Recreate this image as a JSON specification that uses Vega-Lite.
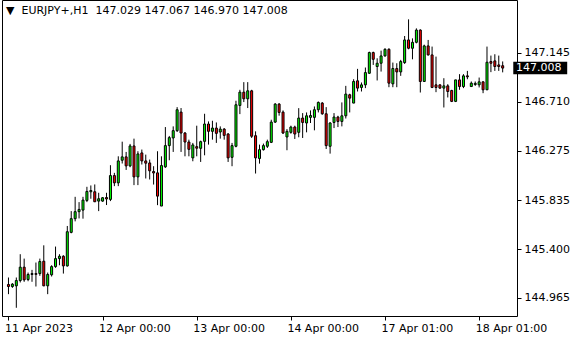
{
"$schema": "https://vega.github.io/schema/vega-lite/v6.json",
"width": 515, "height": 316,
"autosize": {"type": "none"},
"padding": {"left": 2, "top": 0, "right": 63, "bottom": 24},
"background": "white",
"config": {
  "view": {"stroke": "black", "strokeWidth": 1},
  "axis": {"labelFont": "DejaVu Sans", "labelFontSize": 11, "labelColor": "black", "tickColor": "black", "domain": false, "grid": false, "title": null, "labelFlush": false, "labelOverlap": false}
},
"title": {"text": "▼\u00a0\u00a0EURJPY+,H1\u00a0\u00a0147.029 147.067 146.970 147.008", "anchor": "start", "frame": "group", "font": "DejaVu Sans", "fontSize": 11, "fontWeight": "normal", "color": "black", "dx": 4, "dy": 16, "offset": 0},
"data": {"values": [
{"i":0,"o":145.085,"h":145.147,"l":144.999,"c":145.067},
{"i":1,"o":145.067,"h":145.097,"l":145.055,"c":145.088},
{"i":2,"o":145.073,"h":145.147,"l":144.878,"c":145.120},
{"i":3,"o":145.120,"h":145.354,"l":145.103,"c":145.239},
{"i":4,"o":145.239,"h":145.315,"l":145.109,"c":145.126},
{"i":5,"o":145.129,"h":145.191,"l":145.114,"c":145.174},
{"i":6,"o":145.174,"h":145.215,"l":145.109,"c":145.182},
{"i":7,"o":145.182,"h":145.280,"l":145.067,"c":145.175},
{"i":8,"o":145.182,"h":145.315,"l":145.162,"c":145.289},
{"i":9,"o":145.292,"h":145.433,"l":145.070,"c":145.073},
{"i":10,"o":145.073,"h":145.191,"l":144.999,"c":145.174},
{"i":11,"o":145.171,"h":145.256,"l":145.156,"c":145.244},
{"i":12,"o":145.244,"h":145.422,"l":145.233,"c":145.315},
{"i":13,"o":145.315,"h":145.354,"l":145.256,"c":145.336},
{"i":14,"o":145.336,"h":145.345,"l":145.182,"c":145.250},
{"i":15,"o":145.250,"h":145.605,"l":145.244,"c":145.554},
{"i":16,"o":145.548,"h":145.737,"l":145.540,"c":145.670},
{"i":17,"o":145.670,"h":145.864,"l":145.646,"c":145.732},
{"i":18,"o":145.732,"h":145.817,"l":145.672,"c":145.752},
{"i":19,"o":145.746,"h":145.864,"l":145.670,"c":145.835},
{"i":20,"o":145.832,"h":145.953,"l":145.817,"c":145.912},
{"i":21,"o":145.909,"h":145.965,"l":145.847,"c":145.920},
{"i":22,"o":145.909,"h":145.974,"l":145.820,"c":145.820},
{"i":23,"o":145.826,"h":145.900,"l":145.737,"c":145.847},
{"i":24,"o":145.826,"h":145.862,"l":145.820,"c":145.856},
{"i":25,"o":145.858,"h":145.900,"l":145.791,"c":145.845},
{"i":26,"o":145.841,"h":146.145,"l":145.826,"c":146.053},
{"i":27,"o":146.053,"h":146.077,"l":145.959,"c":145.988},
{"i":28,"o":145.988,"h":146.224,"l":145.959,"c":146.183},
{"i":29,"o":146.189,"h":146.354,"l":146.160,"c":146.219},
{"i":30,"o":146.219,"h":146.263,"l":146.103,"c":146.139},
{"i":31,"o":146.139,"h":146.334,"l":146.127,"c":146.316},
{"i":32,"o":146.316,"h":146.381,"l":145.968,"c":146.041},
{"i":33,"o":146.041,"h":146.269,"l":145.968,"c":146.245},
{"i":34,"o":146.254,"h":146.284,"l":146.151,"c":146.183},
{"i":35,"o":146.183,"h":146.239,"l":146.027,"c":146.163},
{"i":36,"o":146.165,"h":146.195,"l":146.018,"c":146.095},
{"i":37,"o":146.089,"h":146.136,"l":145.973,"c":146.076},
{"i":38,"o":146.077,"h":146.269,"l":145.790,"c":145.870},
{"i":39,"o":145.782,"h":146.224,"l":145.782,"c":146.142},
{"i":40,"o":146.130,"h":146.484,"l":146.121,"c":146.319},
{"i":41,"o":146.319,"h":146.405,"l":146.189,"c":146.390},
{"i":42,"o":146.387,"h":146.490,"l":146.263,"c":146.452},
{"i":43,"o":146.452,"h":146.661,"l":146.440,"c":146.638},
{"i":44,"o":146.617,"h":146.653,"l":146.263,"c":146.431},
{"i":45,"o":146.431,"h":146.440,"l":146.224,"c":146.351},
{"i":46,"o":146.351,"h":146.372,"l":146.224,"c":146.286},
{"i":47,"o":146.210,"h":146.343,"l":146.180,"c":146.325},
{"i":48,"o":146.310,"h":146.496,"l":146.224,"c":146.296},
{"i":49,"o":146.295,"h":146.363,"l":146.174,"c":146.354},
{"i":50,"o":146.357,"h":146.602,"l":146.233,"c":146.511},
{"i":51,"o":146.511,"h":146.534,"l":146.328,"c":146.446},
{"i":52,"o":146.446,"h":146.540,"l":146.372,"c":146.475},
{"i":53,"o":146.475,"h":146.525,"l":146.343,"c":146.428},
{"i":54,"o":146.440,"h":146.490,"l":146.381,"c":146.466},
{"i":55,"o":146.466,"h":146.475,"l":146.372,"c":146.410},
{"i":56,"o":146.422,"h":146.431,"l":146.174,"c":146.210},
{"i":57,"o":146.215,"h":146.343,"l":146.136,"c":146.319},
{"i":58,"o":146.313,"h":146.718,"l":146.304,"c":146.682},
{"i":59,"o":146.676,"h":146.815,"l":146.599,"c":146.794},
{"i":60,"o":146.794,"h":146.883,"l":146.706,"c":146.735},
{"i":61,"o":146.735,"h":146.883,"l":146.653,"c":146.806},
{"i":62,"o":146.806,"h":146.815,"l":146.387,"c":146.402},
{"i":63,"o":146.407,"h":146.446,"l":146.071,"c":146.210},
{"i":64,"o":146.204,"h":146.328,"l":146.159,"c":146.283},
{"i":65,"o":146.283,"h":146.337,"l":146.275,"c":146.319},
{"i":66,"o":146.313,"h":146.372,"l":146.298,"c":146.354},
{"i":67,"o":146.348,"h":146.549,"l":146.342,"c":146.528},
{"i":68,"o":146.528,"h":146.697,"l":146.520,"c":146.688},
{"i":69,"o":146.688,"h":146.697,"l":146.585,"c":146.614},
{"i":70,"o":146.617,"h":146.632,"l":146.422,"c":146.431},
{"i":71,"o":146.396,"h":146.466,"l":146.278,"c":146.446},
{"i":72,"o":146.437,"h":146.496,"l":146.425,"c":146.484},
{"i":73,"o":146.484,"h":146.496,"l":146.378,"c":146.422},
{"i":74,"o":146.437,"h":146.652,"l":146.393,"c":146.564},
{"i":75,"o":146.564,"h":146.608,"l":146.387,"c":146.525},
{"i":76,"o":146.520,"h":146.614,"l":146.437,"c":146.584},
{"i":77,"o":146.570,"h":146.632,"l":146.520,"c":146.587},
{"i":78,"o":146.570,"h":146.667,"l":146.455,"c":146.638},
{"i":79,"o":146.638,"h":146.711,"l":146.614,"c":146.703},
{"i":80,"o":146.697,"h":146.706,"l":146.593,"c":146.602},
{"i":81,"o":146.602,"h":146.661,"l":146.289,"c":146.319},
{"i":82,"o":146.313,"h":146.528,"l":146.248,"c":146.520},
{"i":83,"o":146.525,"h":146.608,"l":146.475,"c":146.573},
{"i":84,"o":146.573,"h":146.584,"l":146.484,"c":146.534},
{"i":85,"o":146.534,"h":146.703,"l":146.490,"c":146.584},
{"i":86,"o":146.584,"h":146.850,"l":146.560,"c":146.777},
{"i":87,"o":146.771,"h":146.780,"l":146.614,"c":146.741},
{"i":88,"o":146.697,"h":146.909,"l":146.697,"c":146.889},
{"i":89,"o":146.895,"h":147.001,"l":146.800,"c":146.830},
{"i":90,"o":146.836,"h":146.880,"l":146.800,"c":146.859},
{"i":91,"o":146.859,"h":147.013,"l":146.830,"c":146.968},
{"i":92,"o":146.962,"h":147.154,"l":146.957,"c":147.146},
{"i":93,"o":147.146,"h":147.154,"l":147.036,"c":147.086},
{"i":94,"o":147.022,"h":147.095,"l":146.898,"c":147.051},
{"i":95,"o":147.051,"h":147.163,"l":146.977,"c":147.116},
{"i":96,"o":147.116,"h":147.184,"l":147.110,"c":147.175},
{"i":97,"o":147.175,"h":147.184,"l":146.838,"c":146.874},
{"i":98,"o":146.868,"h":147.057,"l":146.838,"c":147.004},
{"i":99,"o":147.004,"h":147.051,"l":146.838,"c":146.974},
{"i":100,"o":146.974,"h":147.081,"l":146.939,"c":147.066},
{"i":101,"o":147.057,"h":147.293,"l":147.045,"c":147.258},
{"i":102,"o":147.258,"h":147.441,"l":147.175,"c":147.184},
{"i":103,"o":147.184,"h":147.272,"l":147.086,"c":147.237},
{"i":104,"o":147.237,"h":147.361,"l":147.228,"c":147.346},
{"i":105,"o":147.346,"h":147.352,"l":146.791,"c":146.889},
{"i":106,"o":146.889,"h":147.216,"l":146.889,"c":147.205},
{"i":107,"o":147.205,"h":147.258,"l":147.119,"c":147.125},
{"i":108,"o":147.125,"h":147.199,"l":146.830,"c":146.836},
{"i":109,"o":146.859,"h":147.110,"l":146.794,"c":146.836},
{"i":110,"o":146.859,"h":146.862,"l":146.824,"c":146.830},
{"i":111,"o":146.830,"h":146.918,"l":146.658,"c":146.850},
{"i":112,"o":146.850,"h":146.865,"l":146.747,"c":146.800},
{"i":113,"o":146.809,"h":146.815,"l":146.706,"c":146.712},
{"i":114,"o":146.712,"h":146.903,"l":146.706,"c":146.903},
{"i":115,"o":146.903,"h":146.954,"l":146.815,"c":146.844},
{"i":116,"o":146.844,"h":146.954,"l":146.830,"c":146.939},
{"i":117,"o":146.939,"h":146.983,"l":146.909,"c":146.930},
{"i":118,"o":146.844,"h":146.889,"l":146.841,"c":146.874},
{"i":119,"o":146.862,"h":146.889,"l":146.850,"c":146.872},
{"i":120,"o":146.859,"h":146.924,"l":146.836,"c":146.886},
{"i":121,"o":146.886,"h":146.889,"l":146.785,"c":146.815},
{"i":122,"o":146.815,"h":147.199,"l":146.815,"c":147.060},
{"i":123,"o":147.066,"h":147.119,"l":146.972,"c":147.051},
{"i":124,"o":147.072,"h":147.131,"l":146.983,"c":147.022},
{"i":125,"o":147.036,"h":147.119,"l":146.983,"c":147.022},
{"i":126,"o":147.029,"h":147.067,"l":146.970,"c":147.008}
]},
"layer": [
  {
    "mark": {"type": "rule", "color": "black", "strokeWidth": 1},
    "encoding": {
      "x": {"field": "i", "type": "quantitative", "scale": {"domain": [-0.375, 128.375], "nice": false, "zero": false},
        "axis": {"values": [0, 24, 48, 72, 96, 120], "labelExpr": "['11 Apr 2023','12 Apr 00:00','13 Apr 00:00','14 Apr 00:00','17 Apr 01:00','18 Apr 01:00'][round(datum.value/24)]", "labelAlign": "left", "labelBaseline": "top", "labelPadding": 2, "tickSize": 4, "labelOffset": -4}},
      "y": {"field": "l", "type": "quantitative", "scale": {"domain": [144.805, 147.613], "nice": false, "zero": false},
        "axis": {"orient": "right", "values": [144.965, 145.4, 145.835, 146.275, 146.71, 147.145], "format": ".3f", "tickSize": 4, "labelPadding": 3, "labelBaseline": "middle"}},
      "y2": {"field": "h"}
    }
  },
  {
    "mark": {"type": "bar", "width": 2, "stroke": "black", "strokeWidth": 1},
    "encoding": {
      "x": {"field": "i", "type": "quantitative"},
      "y": {"field": "o", "type": "quantitative"},
      "y2": {"field": "c"},
      "fill": {"condition": {"test": "datum.c >= datum.o", "value": "#00ff00"}, "value": "#ff0000"}
    }
  },
  {
    "transform": [{"filter": "datum.i == 126"}],
    "mark": {"type": "rect", "color": "black", "clip": false},
    "encoding": {
      "x": {"datum": 128.7, "type": "quantitative"},
      "x2": {"datum": 142.45},
      "y": {"datum": 147.064, "type": "quantitative"},
      "y2": {"datum": 146.953}
    }
  },
  {
    "transform": [{"filter": "datum.i == 126"}],
    "mark": {"type": "text", "color": "white", "align": "left", "baseline": "middle", "font": "DejaVu Sans", "fontSize": 11, "clip": false},
    "encoding": {
      "x": {"datum": 129.4, "type": "quantitative"},
      "y": {"field": "c", "type": "quantitative"},
      "text": {"field": "c", "type": "quantitative", "format": ".3f"}
    }
  }
]
}
